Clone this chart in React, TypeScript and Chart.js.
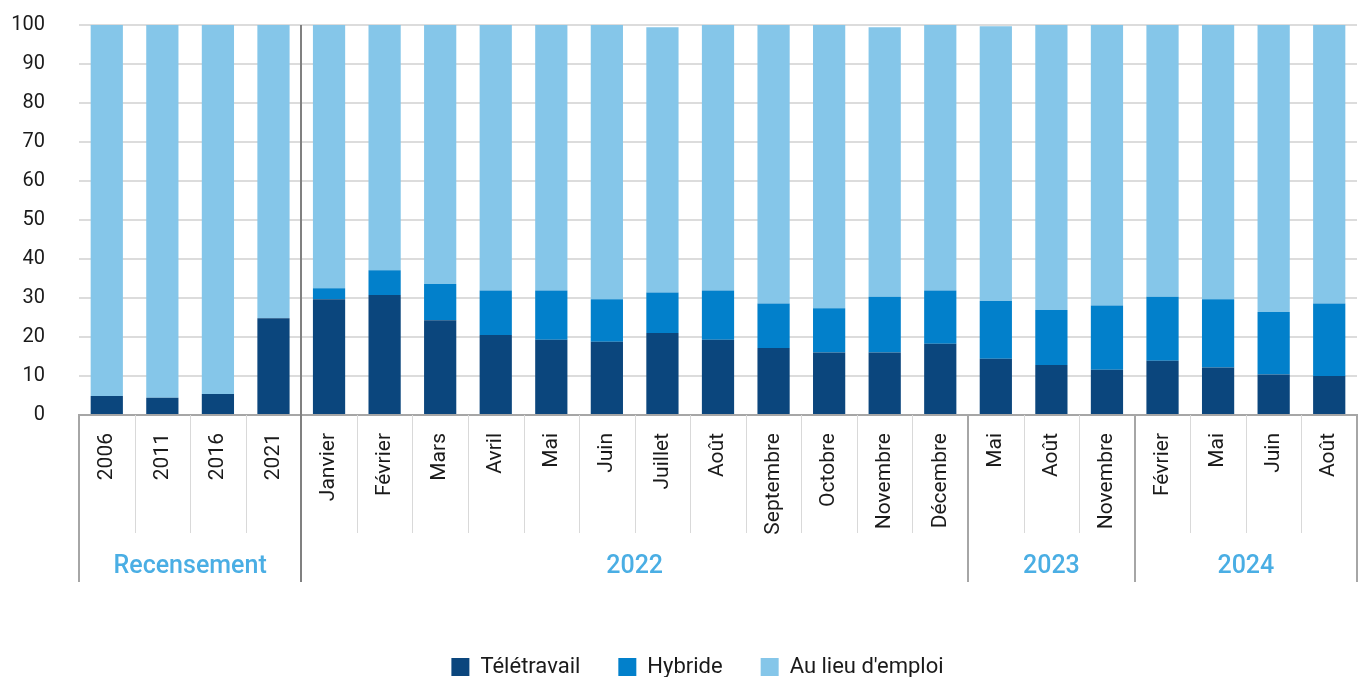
import React, { useEffect, useRef } from "react";
import { Chart, registerables } from "chart.js";

Chart.register(...registerables);

const categories = [
  "2006", "2011", "2016", "2021",
  "Janvier", "Février", "Mars", "Avril", "Mai", "Juin", "Juillet", "Août",
  "Septembre", "Octobre", "Novembre", "Décembre",
  "Mai", "Août", "Novembre",
  "Février", "Mai", "Juin", "Août",
];

const teletravail = [
  4.9, 4.4, 5.4, 24.8,
  29.7, 30.8, 24.3, 20.5, 19.3, 18.8, 21.0, 19.3, 17.2, 16.0, 16.0, 18.3,
  14.4, 12.8, 11.6,
  13.9, 12.2, 10.4, 10.0,
];

const hybride = [
  0, 0, 0, 0,
  2.8, 6.3, 9.3, 11.4, 12.6, 10.9, 10.4, 12.6, 11.4, 11.4, 14.3, 13.6,
  14.8, 14.1, 16.5,
  16.4, 17.5, 16.0, 18.6,
];

const auLieuEmploi = [
  95.1, 95.6, 94.6, 75.2,
  67.5, 62.9, 66.4, 68.1, 68.1, 70.3, 68.0, 68.1, 71.4, 72.6, 69.1, 68.1,
  70.5, 73.1, 71.9,
  69.7, 70.3, 73.6, 71.4,
];

const groupLabels = ["Recensement", "2022", "2023", "2024"];
const groupStarts = [0, 4, 16, 19];
const groupEnds = [3, 15, 18, 22];

const yTicks = [0, 10, 20, 30, 40, 50, 60, 70, 80, 90, 100];

const FONT = "Roboto";
const LEGEND_PADDING = 38;

const groupPlugin = {
  id: "groupPlugin",
  afterLayout(chart: any) {
    if (chart.legend) {
      chart.legend.left += LEGEND_PADDING / 2;
      chart.legend.right += LEGEND_PADDING / 2;
    }
  },
  afterDraw(chart: any) {
    const ctx = chart.ctx;
    const xs = chart.scales.x;
    const area = chart.chartArea;
    const p0 = xs.getPixelForValue(0);
    const p1 = xs.getPixelForValue(1);
    const step = p1 - p0;
    const boundary = (i: number) => p0 + (i - 0.5) * step;
    const axisY = area.bottom;
    const groupBounds = new Set<number>();
    groupStarts.forEach((s) => groupBounds.add(s));
    groupBounds.add(groupEnds[groupEnds.length - 1] + 1);
    ctx.save();
    ctx.strokeStyle = "#d9d9d9";
    ctx.lineWidth = 1;
    for (let i = 1; i < categories.length; i++) {
      if (groupBounds.has(i)) continue;
      const x = Math.round(boundary(i)) + 0.5;
      ctx.beginPath();
      ctx.moveTo(x, axisY);
      ctx.lineTo(x, axisY + 118);
      ctx.stroke();
    }
    ctx.strokeStyle = "#a6a6a6";
    ctx.lineWidth = 2;
    groupBounds.forEach((i) => {
      const x = Math.round(boundary(i));
      ctx.beginPath();
      ctx.moveTo(x, axisY);
      ctx.lineTo(x, axisY + 167);
      ctx.stroke();
    });
    const sx = Math.round(boundary(groupStarts[1]));
    ctx.strokeStyle = "#808080";
    ctx.beginPath();
    ctx.moveTo(sx, area.top);
    ctx.lineTo(sx, axisY + 167);
    ctx.stroke();
    ctx.fillStyle = "#4aaee4";
    ctx.font = `500 25px ${FONT}`;
    ctx.textAlign = "center";
    ctx.textBaseline = "middle";
    groupLabels.forEach((lab, g) => {
      const cx = (boundary(groupStarts[g]) + boundary(groupEnds[g] + 1)) / 2;
      ctx.fillText(lab, cx, axisY + 152);
    });
    ctx.restore();
  },
};

export default function App() {
  const ref = useRef<HTMLCanvasElement>(null);
  useEffect(() => {
    document.body.style.margin = "0";
    const chart = new Chart(ref.current as HTMLCanvasElement, {
      type: "bar",
      data: {
        labels: categories,
        datasets: [
          { label: "Télétravail", data: teletravail, backgroundColor: "#0b467d", borderWidth: 0 },
          { label: "Hybride", data: hybride, backgroundColor: "#0280cb", borderWidth: 0 },
          { label: "Au lieu d'emploi", data: auLieuEmploi, backgroundColor: "#85c6e9", borderWidth: 0 },
        ],
      },
      options: {
        animation: false,
        responsive: false,
        layout: { padding: { top: 25, right: 1, left: 0, bottom: -11 } },
        datasets: { bar: { categoryPercentage: 1, barPercentage: 0.58 } },
        plugins: {
          tooltip: { enabled: false },
          legend: {
            position: "bottom",
            labels: {
              boxWidth: 18,
              boxHeight: 18,
              padding: LEGEND_PADDING,
              color: "#1a1a1a",
              font: { family: FONT, size: 22 },
            },
          },
        },
        scales: {
          x: {
            stacked: true,
            grid: { display: false, drawTicks: false },
            border: { display: true, color: "#a6a6a6", width: 2 },
            ticks: {
              minRotation: 90,
              maxRotation: 90,
              autoSkip: false,
              padding: 18,
              color: "#1a1a1a",
              font: { family: FONT, size: 21 },
            },
            afterFit: (s: any) => {
              s.height = 203;
              s.paddingLeft = 0;
              s.paddingRight = 0;
            },
          },
          y: {
            stacked: true,
            min: 0,
            max: 100,
            afterBuildTicks: (s: any) => {
              s.ticks = yTicks.map((v) => ({ value: v }));
            },
            grid: { color: "#dcdcdc", lineWidth: 2, drawTicks: false },
            border: { display: false },
            ticks: {
              padding: 34,
              color: "#1a1a1a",
              font: { family: FONT, size: 20 },
            },
            afterFit: (s: any) => {
              s.width = 79;
              s.paddingTop = 0;
              s.paddingBottom = 0;
            },
          },
        },
      },
      plugins: [groupPlugin],
    });
    return () => chart.destroy();
  }, []);
  return (
    <div style={{ width: 1358, height: 677 }}>
      <canvas ref={ref} width={1358} height={677} />
    </div>
  );
}
